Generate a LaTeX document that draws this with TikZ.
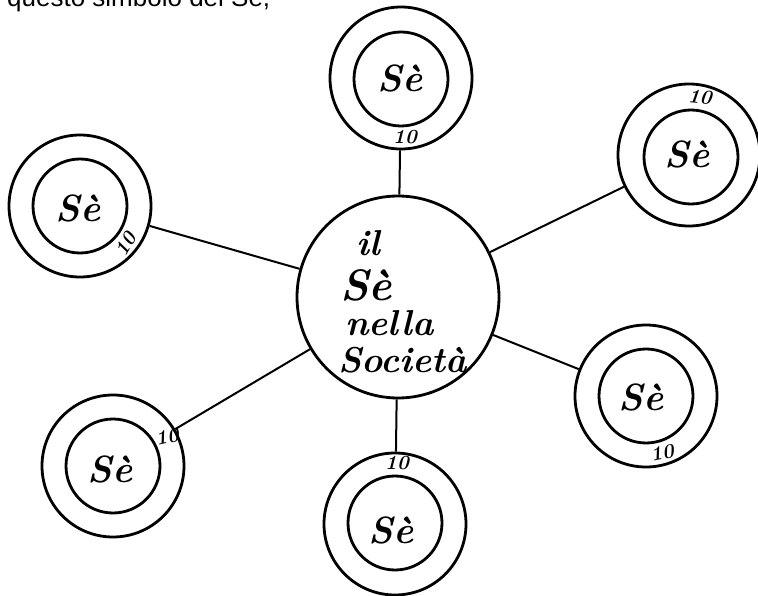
\documentclass[tikz,border=0pt]{standalone}
\usepackage{fontspec}
\newfontfamily\sansf{Liberation Sans}
\begin{document}
\begin{tikzpicture}[x=1pt,y=-1pt,
  ring/.style={circle,draw,line width=2.8pt,inner sep=0pt},
  outer/.style={ring,minimum size=142pt},
  inner/.style={ring,minimum size=94pt},
  se/.style={font=\fontsize{38}{40}\selectfont\bfseries\itshape,inner sep=0pt},
  ten/.style={font=\fontsize{20}{20}\selectfont\itshape\bfseries,inner sep=0pt},
  link/.style={line width=2pt},
  hand/.style={font=\fontsize{36}{40}\selectfont\bfseries\itshape,inner sep=0pt,anchor=base west}]
\useasboundingbox (0,0) rectangle (758,596);
% heading (cut off at the top)
\node[font=\sansf\fontsize{26}{26}\selectfont,anchor=base west,inner sep=0pt] (head) at (7,7) {questo simbolo del Sé,};
% centre
\node[ring,minimum size=202pt] (c) at (398,297) {};
\node[hand] (l1) at (356,255) {il};
\node[hand,font=\fontsize{44}{44}\selectfont\bfseries\itshape] (l2) at (340,300) {Sè};
\node[hand] (l3) at (345,335) {nella};
\node[hand] (l4) at (338,372) {Società};
% satellites
\node[outer] (o1) at (401,78) {};
\node[inner] (i1) at (401,79) {};
\node[se] (s1) at (400,78) {Sè};
\node[ten] (t1) at (405,137) {10};

\node[outer] (o2) at (689,155) {};
\node[inner] (i2) at (691,157) {};
\node[se] (s2) at (687,154) {Sè};
\node[ten,rotate=-5] (t2) at (700,97) {10};

\node[outer] (o3) at (80,206) {};
\node[inner] (i3) at (80,206) {};
\node[se] (s3) at (78,208) {Sè};
\node[ten,rotate=60] (t3) at (126,244) {10};

\node[outer] (o4) at (646,396) {};
\node[inner] (i4) at (646,396) {};
\node[se] (s4) at (641,397) {Sè};
\node[ten,rotate=12] (t4) at (662,453) {10};

\node[outer] (o5) at (113,466) {};
\node[inner] (i5) at (113,466) {};
\node[se] (s5) at (110,469) {Sè};
\node[ten,rotate=12] (t5) at (167,437) {10};

\node[outer] (o6) at (395,524) {};
\node[inner] (i6) at (395,523) {};
\node[se] (s6) at (391,530) {Sè};
\node[ten] (t6) at (397,463) {10};
% connectors
\foreach \s in {o1,o2,o3,o4,o5,o6} \draw[link] (c) -- (\s);
\end{tikzpicture}
\end{document}
